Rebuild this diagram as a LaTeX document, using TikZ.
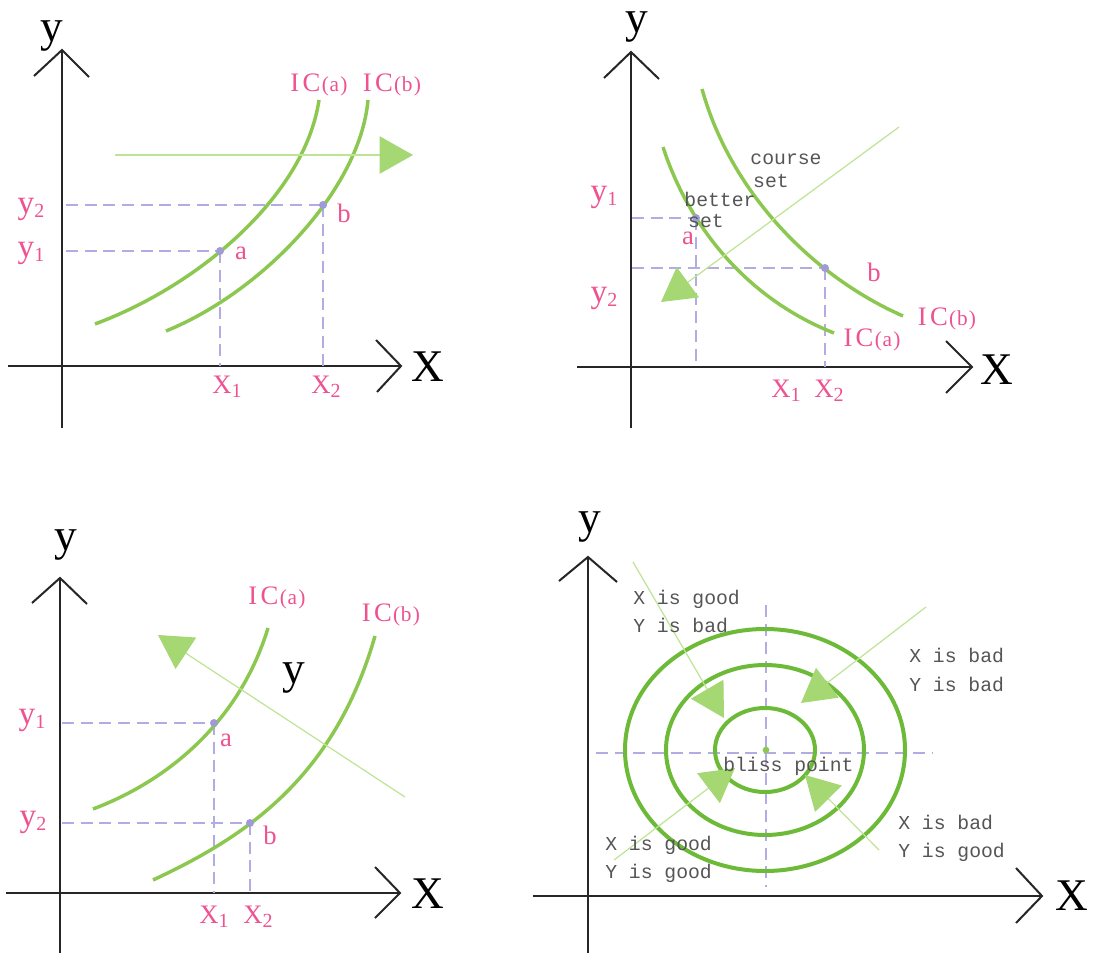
\documentclass[tikz,border=0pt]{standalone}
\usepackage{fontspec}
\setmainfont{Liberation Serif}
\newfontfamily\monof{Liberation Mono}
\usetikzlibrary{arrows.meta}
\definecolor{pk}{RGB}{238,82,145}
\definecolor{gc}{RGB}{140,200,80}
\definecolor{gd}{RGB}{108,186,55}
\definecolor{gl}{RGB}{190,228,150}
\definecolor{ga}{RGB}{165,215,115}
\definecolor{lav}{RGB}{178,172,228}
\definecolor{dotc}{RGB}{160,155,215}
\definecolor{gtxt}{RGB}{85,85,85}
\newcommand\lowsub[1]{\raisebox{-3pt}{\fontsize{15}{15}\selectfont #1}}
\newcommand\icl[1]{I\hspace{2.5pt}C\hspace{1pt}{\fontsize{16}{16}\selectfont(\hspace{0.5pt}#1\hspace{1pt})}}
\tikzset{
  axis/.style={line width=1.5pt, draw=black!85},
  chev/.style={line width=1.5pt, draw=black!85, line join=miter},
  curve/.style={draw=gc, line width=2.6pt},
  ring/.style={draw=gd, line width=3pt},
  guide/.style={draw=lav, line width=1.2pt, dash pattern=on 9pt off 5pt},
  thinline/.style={draw=gl, line width=0.9pt},
  bigarrow/.style={thinline, -{Triangle[length=25pt,width=28pt,color=ga]}},
  axlab/.style={font=\fontsize{34}{34}\selectfont, text=black, inner sep=0},
  pklab/.style={font=\fontsize{20}{20}\selectfont, text=pk, inner sep=0},
  pky/.style={font=\fontsize{25}{25}\selectfont, text=pk, inner sep=0},
  gtx/.style={font=\monof\fontsize{14.8}{14.8}\selectfont, text=gtxt, inner sep=0, anchor=base west},
  pdot/.style={circle, fill=dotc, inner sep=0, minimum size=6pt},
}
\begin{document}
\begin{tikzpicture}[x=0.75pt,y=-0.75pt]
\useasboundingbox (0,0) rectangle (1097,953);
\fill[white] (0,0) rectangle (1097,953);

% ================= Panel 1 =================
\coordinate (p1yb) at (62,428); \coordinate (p1yt) at (62,50);
\coordinate (p1yl) at (34,76); \coordinate (p1yr) at (89,77);
\coordinate (p1xl) at (8,366); \coordinate (p1xr) at (401,366);
\coordinate (p1xu) at (376,340); \coordinate (p1xd) at (377,392);
\draw[axis] (p1yb) -- (p1yt); \draw[chev] (p1yl) -- (p1yt) -- (p1yr);
\draw[axis] (p1xl) -- (p1xr); \draw[chev] (p1xu) -- (p1xr) -- (p1xd);
\node[axlab] (p1ylab) at (52,36) {y};
\node[axlab] (p1xlab) at (428,367) {X};

\coordinate (p1a) at (220,251); \coordinate (p1b) at (323,205);
\coordinate (p1y1s) at (66,251); \coordinate (p1y2s) at (66,205);
\coordinate (p1x1e) at (220,366); \coordinate (p1x2e) at (323,366);
\draw[guide] (p1y2s) -- (p1b); \draw[guide] (p1y1s) -- (p1a);
\draw[guide] (p1a) -- (p1x1e); \draw[guide] (p1b) -- (p1x2e);

\coordinate (p1c1s) at (95,324); \coordinate (p1c1e) at (319,100);
\coordinate (p1c2s) at (166,331); \coordinate (p1c2e) at (368,100);
\draw[curve] (p1c1s) .. controls (200,285) and (305,195) .. (p1c1e);
\draw[curve] (p1c2s) .. controls (262,292) and (360,190) .. (p1c2e);

\coordinate (p1as) at (115,155); \coordinate (p1ae) at (413,155);
\draw[bigarrow] (p1as) -- (p1ae);

\node[pdot] (p1adot) at (p1a) {}; \node[pdot] (p1bdot) at (p1b) {};
\node[pky] (p1y2) at (31,209) {y\lowsub{2}};
\node[pky] (p1y1) at (31,253) {y\lowsub{1}};
\node[pklab] (p1al) at (241,253) {a};
\node[pklab] (p1bl) at (344,213) {b};
\node[pklab] (p1x1) at (227,387) {X\lowsub{1}};
\node[pklab] (p1x2) at (326,387) {X\lowsub{2}};
\node[pklab] (p1ica) at (319,85) {\icl{a}};
\node[pklab] (p1icb) at (392,85) {\icl{b}};

% ================= Panel 2 =================
\coordinate (p2yb) at (631,428); \coordinate (p2yt) at (631,52);
\coordinate (p2yl) at (604,78); \coordinate (p2yr) at (659,79);
\coordinate (p2xl) at (577,367); \coordinate (p2xr) at (972,367);
\coordinate (p2xu) at (946,341); \coordinate (p2xd) at (946,393);
\draw[axis] (p2yb) -- (p2yt); \draw[chev] (p2yl) -- (p2yt) -- (p2yr);
\draw[axis] (p2xl) -- (p2xr); \draw[chev] (p2xu) -- (p2xr) -- (p2xd);
\node[axlab] (p2ylab) at (637,27) {y};
\node[axlab] (p2xlab) at (997,370) {X};

\coordinate (p2a) at (696,218); \coordinate (p2b) at (825,268);
\coordinate (p2y1s) at (632,218); \coordinate (p2y2s) at (632,268);
\coordinate (p2x1e) at (696,367); \coordinate (p2x2e) at (825,367);
\draw[guide] (p2y1s) -- (p2a); \draw[guide] (p2y2s) -- (p2b);
\draw[guide] (p2a) -- (p2x1e); \draw[guide] (p2b) -- (p2x2e);

\coordinate (p2c1s) at (663,147); \coordinate (p2c1e) at (834,333);
\coordinate (p2c2s) at (702,89); \coordinate (p2c2e) at (903,316);
\draw[curve] (p2c1s) .. controls (690,230) and (750,300) .. (p2c1e);
\draw[curve] (p2c2s) .. controls (730,190) and (810,275) .. (p2c2e);

\coordinate (p2as) at (899,127); \coordinate (p2ae) at (661,302);
\draw[bigarrow] (p2as) -- (p2ae);

\node[pdot] (p2adot) at (p2a) {}; \node[pdot] (p2bdot) at (p2b) {};
\node[pky] (p2y1) at (604,197) {y\lowsub{1}};
\node[pky] (p2y2) at (604,298) {y\lowsub{2}};
\node[pklab] (p2al) at (688,238) {a};
\node[pklab] (p2bl) at (874,272) {b};
\node[pklab] (p2x1) at (786,391) {X\lowsub{1}};
\node[pklab] (p2x2) at (829,391) {X\lowsub{2}};
\node[pklab] (p2ica) at (872,340) {\icl{a}};
\node[pklab] (p2icb) at (947,319) {\icl{b}};
\node[gtx, anchor=center] (p2c1) at (786,159) {course};
\node[gtx, anchor=center] (p2c2) at (771,181) {set};
\node[gtx, anchor=center] (p2b1) at (720,199) {better};
\node[gtx, anchor=center] (p2b2) at (706,221) {set};

% ================= Panel 3 =================
\coordinate (p3yb) at (60,953); \coordinate (p3yt) at (60,578);
\coordinate (p3yl) at (32,603); \coordinate (p3yr) at (87,604);
\coordinate (p3xl) at (6,893); \coordinate (p3xr) at (400,893);
\coordinate (p3xu) at (375,867); \coordinate (p3xd) at (375,918);
\draw[axis] (p3yb) -- (p3yt); \draw[chev] (p3yl) -- (p3yt) -- (p3yr);
\draw[axis] (p3xl) -- (p3xr); \draw[chev] (p3xu) -- (p3xr) -- (p3xd);
\node[axlab] (p3ylab) at (66,545) {y};
\node[axlab] (p3xlab) at (428,894) {X};

\coordinate (p3a) at (214,723); \coordinate (p3b) at (250,823);
\coordinate (p3y1s) at (62,723); \coordinate (p3y2s) at (62,823);
\coordinate (p3x1e) at (214,893); \coordinate (p3x2e) at (250,893);
\draw[guide] (p3y1s) -- (p3a); \draw[guide] (p3y2s) -- (p3b);
\draw[guide] (p3a) -- (p3x1e); \draw[guide] (p3b) -- (p3x2e);

\coordinate (p3c1s) at (93,809); \coordinate (p3c1e) at (268,628);
\coordinate (p3c2s) at (153,880); \coordinate (p3c2e) at (375,636);
\draw[curve] (p3c1s) .. controls (170,780) and (240,720) .. (p3c1e);
\draw[curve] (p3c2s) .. controls (250,835) and (335,775) .. (p3c2e);

\coordinate (p3as) at (405,797); \coordinate (p3ae) at (158,635);
\draw[bigarrow] (p3as) -- (p3ae);

\node[pdot] (p3adot) at (p3a) {}; \node[pdot] (p3bdot) at (p3b) {};
\node[pky] (p3y1) at (32,720) {y\lowsub{1}};
\node[pky] (p3y2) at (33,822) {y\lowsub{2}};
\node[pklab] (p3al) at (226,740) {a};
\node[pklab] (p3bl) at (270,835) {b};
\node[pklab] (p3x1) at (214,917) {X\lowsub{1}};
\node[pklab] (p3x2) at (258,917) {X\lowsub{2}};
\node[pklab] (p3ica) at (277,598) {\icl{a}};
\node[pklab] (p3icb) at (391,615) {\icl{b}};
\node[axlab] (p3ymid) at (294,678) {y};

% ================= Panel 4 =================
\coordinate (p4yb) at (588,953); \coordinate (p4yt) at (588,557);
\coordinate (p4yl) at (559,581); \coordinate (p4yr) at (617,582);
\coordinate (p4xl) at (533,896); \coordinate (p4xr) at (1042,896);
\coordinate (p4xu) at (1016,868); \coordinate (p4xd) at (1016,923);
\draw[axis] (p4yb) -- (p4yt); \draw[chev] (p4yl) -- (p4yt) -- (p4yr);
\draw[axis] (p4xl) -- (p4xr); \draw[chev] (p4xu) -- (p4xr) -- (p4xd);
\node[axlab] (p4ylab) at (590,527) {y};
\node[axlab] (p4xlab) at (1072,896) {X};

\coordinate (p4c) at (765,750);
\coordinate (p4hl) at (596,753); \coordinate (p4hr) at (933,753);
\coordinate (p4vt) at (766,605); \coordinate (p4vb) at (766,887);
\draw[guide] (p4hl) -- (p4hr); \draw[guide] (p4vt) -- (p4vb);

\draw[ring] (p4c) ellipse [x radius=140, y radius=121];
\draw[ring] (p4c) ellipse [x radius=99, y radius=85];
\draw[ring] (p4c) ellipse [x radius=50, y radius=42];
\node[circle, fill=gc, inner sep=0, minimum size=5pt] (p4dot) at (766,750) {};

\coordinate (p4s1) at (633,562); \coordinate (p4e1) at (724,718);
\coordinate (p4s2) at (926,607); \coordinate (p4e2) at (801,703);
\coordinate (p4s3) at (614,860); \coordinate (p4e3) at (735,768);
\coordinate (p4s4) at (879,850); \coordinate (p4e4) at (805,775);
\draw[bigarrow] (p4s1) -- (p4e1);
\draw[bigarrow] (p4s2) -- (p4e2);
\draw[bigarrow] (p4s3) -- (p4e3);
\draw[bigarrow] (p4s4) -- (p4e4);

\node[gtx] (t1a) at (633,604) {X is good};
\node[gtx] (t1b) at (633,632) {Y is bad};
\node[gtx] (t2a) at (909,662) {X is bad};
\node[gtx] (t2b) at (909,691) {Y is bad};
\node[gtx] (t3a) at (898,829) {X is bad};
\node[gtx] (t3b) at (898,857) {Y is good};
\node[gtx] (t4a) at (605,850) {X is good};
\node[gtx] (t4b) at (605,878) {Y is good};
\node[gtx] (tb) at (723,771) {bliss point};
\end{tikzpicture}
\end{document}
